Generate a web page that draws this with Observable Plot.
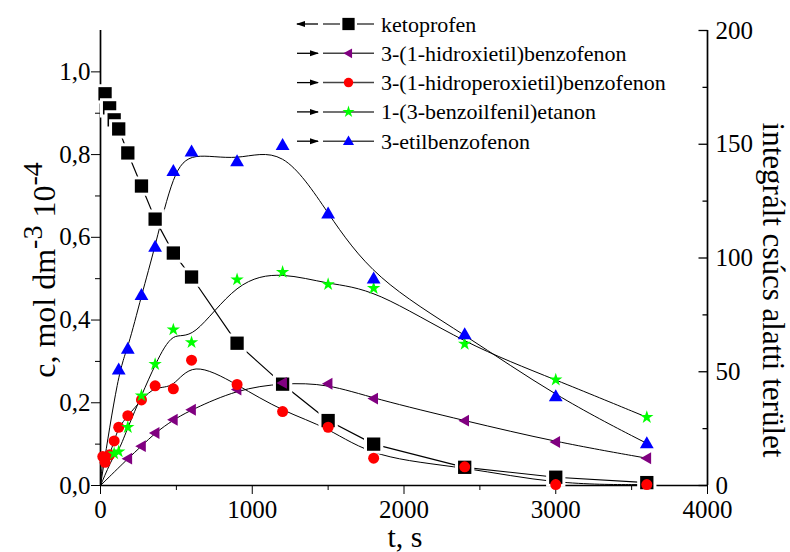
<!DOCTYPE html>
<html><head><meta charset="utf-8">
<script src="https://cdn.jsdelivr.net/npm/d3@7"></script>
<script src="https://cdn.jsdelivr.net/npm/@observablehq/plot@0.6"></script>
<style>
body{margin:0;background:#fff}
#chart{position:relative;width:790px;height:552px}
#chart svg text{font-family: "Liberation Serif", "DejaVu Serif", "Times New Roman", serif;}
</style>
</head><body><div id="chart"></div>
<script>
// ---------- data ----------
const seriesNames = ["ketoprofen","3-(1-hidroxietil)benzofenon","3-(1-hidroperoxietil)benzofenon","1-(3-benzoilfenil)etanon","3-etilbenzofenon"];
const seriesColors = ["#000000","#800080","#ff0000","#00ff00","#0000ff"];

// ketoprofen: left axis, c (10^-4 mol dm^-3)
const ketoT = [30,60,90,120,180,270,360,480,600,900,1200,1500,1800,2400,3000,3600];
const ketoC = [0.947,0.913,0.884,0.862,0.804,0.724,0.644,0.562,0.504,0.344,0.245,0.157,0.100,0.044,0.020,0.007];

// the others: right axis, integrated peak area
const hydroxyT = [0,180,270,360,480,600,900,1200,1500,1800,2400,3000,3600];
const hydroxyA = [0,11.8,17.3,23.1,28.9,33.3,42.2,45.1,44.7,38.2,28.5,19.1,12.0];

const peroxyT = [0,15,30,60,90,120,180,270,360,480,600,900,1200,1500,1800,2400,3000,3600];
const peroxyA = [0,12.7,10.2,13.5,19.6,25.6,30.7,37.6,43.8,42.5,55.1,44.4,32.5,25.6,12.0,8.2,0.4,0.4];

const benzoylT = [0,90,120,180,270,360,480,600,900,1200,1500,1800,2400,3000,3600];
const benzoylA = [0,14.0,14.9,25.6,39.5,53.3,68.5,62.9,90.5,93.8,88.4,86.7,62.2,46.5,30.0];

const ethylT = [0,120,180,270,360,480,600,900,1200,1500,1800,2400,3000,3600];
const ethylA = [0,50.9,60.0,83.6,104.9,138.2,146.7,142.4,149.6,119.5,90.9,66.4,39.1,18.5];

const xMajor = [0,1000,2000,3000,4000];
const xMinor = [500,1500,2500,3500];
const leftMajor = [0,0.2,0.4,0.6,0.8,1.0];
const leftMinor = [0.1,0.3,0.5,0.7,0.9];
const rightMajor = [0,50,100,150,200];
const rightMinor = [25,75,125,175];

const leftMax = 1.1, rightMax = 200;
const k = leftMax / rightMax; // right-axis units -> left-axis units

// ---------- build tables ----------
const toRows = (ts, vs, f) => ts.map((t, i) => ({t, y: vs[i] * f}));
const keto = toRows(ketoT, ketoC, 1);
const hydroxy = toRows(hydroxyT, hydroxyA, k);
const peroxy = toRows(peroxyT, peroxyA, k);
const benzoyl = toRows(benzoylT, benzoylA, k);
const ethyl = toRows(ethylT, ethylA, k);
const noZero = rows => rows.filter(d => d.t > 0);

// ---------- symbols ----------
const upTri = {draw(ctx, size){const r=Math.sqrt(size/Math.PI);ctx.moveTo(0,-r*1.2);ctx.lineTo(r*1.15,r*0.8);ctx.lineTo(-r*1.15,r*0.8);ctx.closePath();}};
const leftTri = {draw(ctx, size){const r=Math.sqrt(size/Math.PI);ctx.moveTo(-r*1.15,0);ctx.lineTo(r*0.8,-r*1.1);ctx.lineTo(r*0.8,r*1.1);ctx.closePath();}};
const tickIn = {draw(ctx, size){const L=Math.sqrt(size/Math.PI);ctx.moveTo(-L,0);ctx.lineTo(0,0);}};

const font = '"Liberation Serif", "DejaVu Serif", serif';
const noText = () => "";

const chart = Plot.plot({
  width: 790, height: 552,
  marginLeft: 100, marginRight: 83, marginTop: 30, marginBottom: 67,
  style: {fontFamily: font, fontSize: "25px", background: "white", color: "black"},
  x: {domain: [0, 4000]},
  y: {domain: [0, leftMax]},
  marks: [
    // axes
    Plot.axisX(xMajor, {tickSize: 9, tickPadding: 6, tickFormat: d => String(d), label: null}),
    Plot.axisX(xMinor, {tickSize: 5, tickFormat: noText, label: null}),
    Plot.axisY(leftMajor, {anchor: "left", tickSize: 9, tickPadding: 1, tickFormat: d => d.toFixed(1).replace(".", ","), label: null}),
    Plot.axisY(leftMinor, {anchor: "left", tickSize: 5, tickFormat: noText, label: null}),
    Plot.axisY(rightMajor.map(v => v * k), {anchor: "right", tickSize: 0, tickPadding: 8, tickFormat: d => String(Math.round(d / k)), label: null}),
    Plot.dot(rightMajor, {x: () => 4000, y: d => d * k, symbol: tickIn, r: 9, stroke: "black", strokeWidth: 1.3, fill: "none"}),
    Plot.dot(rightMinor, {x: () => 4000, y: d => d * k, symbol: tickIn, r: 5, stroke: "black", strokeWidth: 1.3, fill: "none"}),
    Plot.ruleY([0], {strokeWidth: 1.7}),
    Plot.ruleX([0, 4000], {strokeWidth: 1.7}),
    // lines
    Plot.line(hydroxy, {x: "t", y: "y", curve: "basis", stroke: "black", strokeWidth: 1}),
    Plot.line(peroxy, {x: "t", y: "y", curve: "basis", stroke: "black", strokeWidth: 1}),
    Plot.line(benzoyl, {x: "t", y: "y", curve: "basis", stroke: "black", strokeWidth: 1}),
    Plot.line(ethyl, {x: "t", y: "y", curve: "basis", stroke: "black", strokeWidth: 1}),
    Plot.line(keto, {x: "t", y: "y", stroke: "black", strokeWidth: 1.2}),
    // markers
    Plot.dot(keto, {x: "t", y: "y", symbol: "square", r: 7.5, fill: seriesColors[0], stroke: "white", strokeWidth: 6, paintOrder: "stroke"}),
    Plot.dot(noZero(hydroxy), {x: "t", y: "y", symbol: leftTri, r: 5.4, fill: seriesColors[1], stroke: "none"}),
    Plot.dot(noZero(peroxy), {x: "t", y: "y", symbol: "circle", r: 5.5, fill: seriesColors[2], stroke: "none"}),
    Plot.dot(noZero(benzoyl), {x: "t", y: "y", symbol: "star", r: 4.2, fill: seriesColors[3], stroke: "none"}),
    Plot.dot(noZero(ethyl), {x: "t", y: "y", symbol: upTri, r: 6, fill: seriesColors[4], stroke: "none"})
  ]
});

document.getElementById("chart").appendChild(chart);
const svg = d3.select(chart);

// axis titles
svg.append("text").attr("x", 405).attr("y", 547).attr("text-anchor", "middle")
  .attr("font-family", font).attr("font-size", 30).attr("fill", "black").text("t, s");

const lt = svg.append("text").attr("transform", "translate(55,270) rotate(-90)").attr("text-anchor", "middle")
  .attr("font-family", font).attr("font-size", 32).attr("fill", "black");
lt.append("tspan").text("c, mol dm");
lt.append("tspan").attr("dy", -13).attr("font-size", 28).text("-3");
lt.append("tspan").attr("dy", 13).text(" 10");
lt.append("tspan").attr("dy", -13).attr("font-size", 28).text("-4");

svg.append("text").attr("transform", "translate(763,290) rotate(90)").attr("text-anchor", "middle")
  .attr("font-family", font).attr("font-size", 31).attr("fill", "black").text("integrált csúcs alatti terület");

// legend
const legendSymbols = [d3.symbolSquare, leftTri, d3.symbolCircle, d3.symbolStar, upTri];
const legendSizes = [7.5*7.5*Math.PI*0.85, 5*5*Math.PI*0.8, 5.3*5.3*Math.PI*0.8, 4*4*Math.PI*0.9, 5.4*5.4*Math.PI*0.8];
const lg = svg.append("g").attr("text-anchor", "start");
seriesNames.forEach((name, i) => {
  const y = 24 + i * 29.3;
  const g = lg.append("g").attr("transform", `translate(0,${y})`);
  // axis arrow
  g.append("line").attr("x1", 297).attr("x2", 318).attr("y1", 0).attr("y2", 0).attr("stroke", "black").attr("stroke-width", 1.3);
  if (i === 0) g.append("path").attr("d", "M296,0 L305,-3 L305,3 Z").attr("fill", "black");
  else g.append("path").attr("d", "M319,0 L310,-3 L310,3 Z").attr("fill", "black");
  // line
  if (i === 0) {
    g.append("line").attr("x1", 323).attr("x2", 340).attr("y1", 0).attr("y2", 0).attr("stroke", "#444").attr("stroke-width", 1.5);
    g.append("line").attr("x1", 357).attr("x2", 374).attr("y1", 0).attr("y2", 0).attr("stroke", "#444").attr("stroke-width", 1.5);
  } else {
    g.append("line").attr("x1", 323).attr("x2", 374).attr("y1", 0).attr("y2", 0).attr("stroke", "#444").attr("stroke-width", 1.5);
  }
  g.append("path").attr("transform", "translate(348.5,0)").attr("d", d3.symbol(legendSymbols[i], legendSizes[i])()).attr("fill", seriesColors[i]);
  g.append("text").attr("x", 381).attr("y", 7.5).attr("text-anchor", "start").attr("font-family", font).attr("font-size", 22).attr("fill", "black").text(name);
});
</script>
</body></html>
